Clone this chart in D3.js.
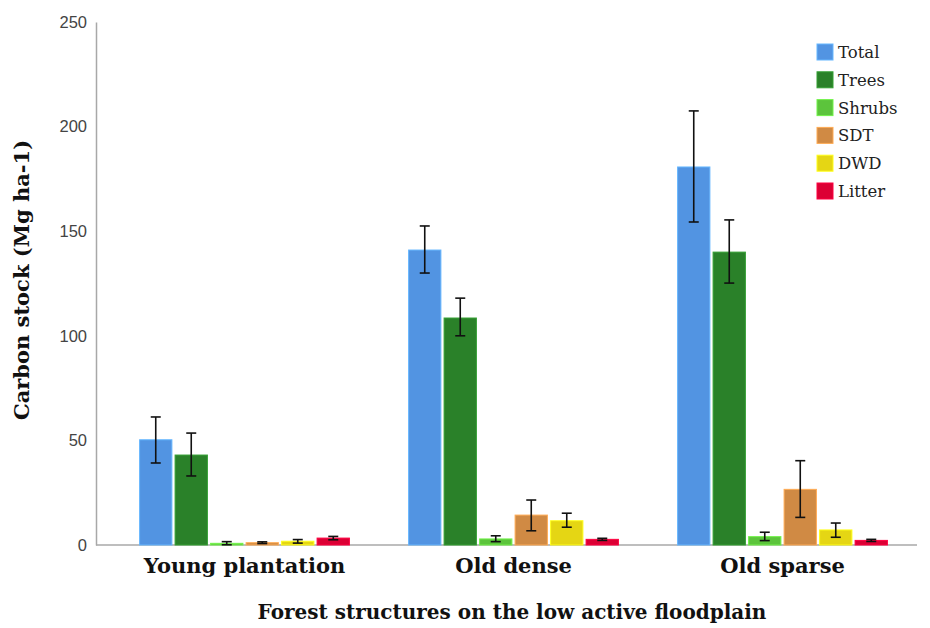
<!DOCTYPE html>
<html>
<head>
<meta charset="utf-8">
<script src="https://cdn.jsdelivr.net/npm/d3@7"></script>
<style>
  body { margin: 0; background: #fff; }
</style>
</head>
<body>
<svg id="chart"></svg>
<script>
// groups and series
const groups = ["Young plantation", "Old dense", "Old sparse"];
const series = ["Total", "Trees", "Shrubs", "SDT", "DWD", "Litter"];
const colors = ["#5294e2", "#2a8129", "#5cc43c", "#d08a44", "#e5d614", "#dc0034"];

// mean values per group (same order as series)
const youngValues = [50.3, 43.0, 0.8, 1.1, 1.8, 3.3];
const denseValues = [141.0, 108.5, 2.9, 14.3, 11.6, 2.7];
const sparseValues = [180.7, 140.0, 4.0, 26.6, 7.2, 2.2];

// error bar low / high
const youngLow = [39.2, 33.0, 0.1, 0.7, 0.9, 2.5];
const youngHigh = [61.2, 53.5, 1.6, 1.5, 2.6, 4.1];
const denseLow = [130.0, 100.0, 1.6, 6.8, 8.5, 2.2];
const denseHigh = [152.5, 118.0, 4.4, 21.5, 15.2, 3.2];
const sparseLow = [154.4, 125.2, 2.1, 13.2, 3.7, 1.7];
const sparseHigh = [207.5, 155.4, 6.1, 40.3, 10.5, 2.7];

const yTicks = [0, 50, 100, 150, 200, 250];

const allValues = [youngValues, denseValues, sparseValues];
const allLow = [youngLow, denseLow, sparseLow];
const allHigh = [youngHigh, denseHigh, sparseHigh];

const rows = [];
groups.forEach((g, gi) => {
  series.forEach((s, si) => {
    rows.push({ group: g, key: s, value: allValues[gi][si], lo: allLow[gi][si], hi: allHigh[gi][si], color: colors[si] });
  });
});

const width = 930;
const height = 628;
const serif = "'DejaVu Serif', 'Liberation Serif', serif";

const svg = d3.select("#chart").attr("width", width).attr("height", height);

const y = d3.scaleLinear().domain([0, 250]).range([545, 22]);

const x0 = d3.scaleBand()
  .domain(groups)
  .range([110, 917])
  .paddingInner(0.22)
  .paddingOuter(0.11);

const x1 = d3.scaleBand()
  .domain(series)
  .range([0, x0.bandwidth()])
  .paddingInner(0.09);

// y axis
const yAxis = svg.append("g")
  .attr("transform", "translate(96,0)")
  .call(d3.axisLeft(y).tickValues(yTicks).tickSize(0).tickPadding(9));
yAxis.select(".domain").attr("stroke", "#a8a8a8").attr("stroke-width", 1.5);
yAxis.selectAll("text")
  .attr("font-family", "'Liberation Sans', Arial, sans-serif")
  .attr("font-size", 16.5)
  .attr("fill", "#444");

// x axis line
const xAxis = svg.append("g")
  .attr("transform", "translate(0,545)")
  .call(d3.axisBottom(x0).tickSize(0).tickPadding(13));
xAxis.select(".domain").attr("d", "M96,0H917").attr("stroke", "#a8a8a8").attr("stroke-width", 1.5);
xAxis.selectAll("text")
  .attr("font-family", serif)
  .attr("font-weight", "bold")
  .attr("font-size", 21)
  .attr("fill", "#111");

// bars
const barG = svg.append("g");
barG.selectAll("rect")
  .data(rows)
  .join("rect")
  .attr("x", d => x0(d.group) + x1(d.key))
  .attr("y", d => y(d.value))
  .attr("width", x1.bandwidth())
  .attr("height", d => y(0) - y(d.value))
  .attr("fill", d => d.color)
  .attr("stroke", d => d3.color(d.color).brighter(0.6))
  .attr("stroke-width", 1);

// error bars
const errG = svg.append("g").attr("stroke", "#111").attr("stroke-width", 1.6);
rows.forEach(d => {
  const cx = x0(d.group) + x1(d.key) + x1.bandwidth() / 2;
  errG.append("line").attr("x1", cx).attr("x2", cx).attr("y1", y(d.hi)).attr("y2", y(d.lo));
  errG.append("line").attr("x1", cx - 5).attr("x2", cx + 5).attr("y1", y(d.hi)).attr("y2", y(d.hi));
  errG.append("line").attr("x1", cx - 5).attr("x2", cx + 5).attr("y1", y(d.lo)).attr("y2", y(d.lo));
});

// legend
const legend = svg.append("g").attr("transform", "translate(817,44)");
series.forEach((s, i) => {
  const row = legend.append("g").attr("transform", `translate(0,${i * 27.8})`);
  row.append("rect")
    .attr("width", 16).attr("height", 16)
    .attr("fill", colors[i])
    .attr("stroke", d3.color(colors[i]).brighter(0.6));
  row.append("text")
    .attr("x", 21).attr("y", 14)
    .attr("font-family", serif)
    .attr("font-size", 16.5)
    .attr("fill", "#222")
    .text(s);
});

// axis titles
svg.append("text")
  .attr("transform", "translate(29,280) rotate(-90)")
  .attr("text-anchor", "middle")
  .attr("font-family", serif)
  .attr("font-weight", "bold")
  .attr("font-size", 21)
  .attr("fill", "#111")
  .text("Carbon stock (Mg ha-1)");

svg.append("text")
  .attr("x", 512).attr("y", 619)
  .attr("text-anchor", "middle")
  .attr("font-family", serif)
  .attr("font-weight", "bold")
  .attr("font-size", 20)
  .attr("fill", "#111")
  .text("Forest structures on the low active floodplain");
</script>
</body>
</html>
